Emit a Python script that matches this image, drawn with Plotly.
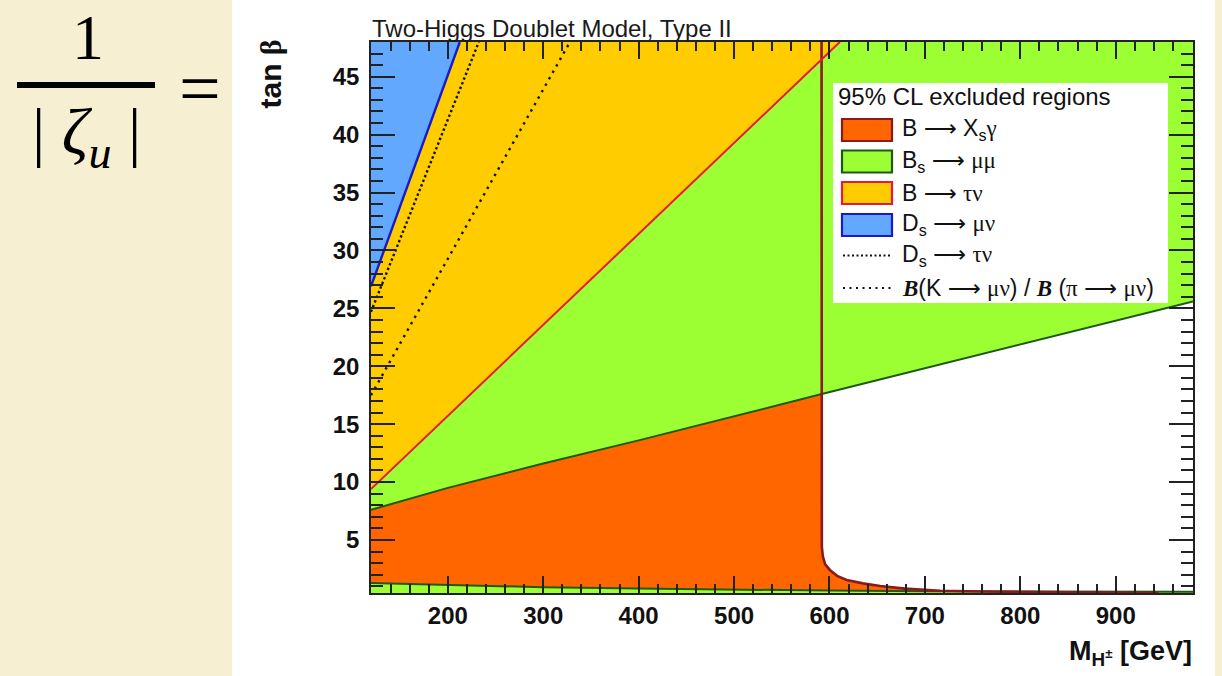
import plotly.graph_objects as go

# ---------------- data ----------------
x_range = [119.5, 981.0]
y_range = [0.42, 48.0]

# B -> Xs gamma exclusion boundary (excluded to the left / below)
bsg_m = [591.7, 591.7, 592.0, 593.0, 595.5, 600.4, 608.0, 618.0, 635.0, 653.0, 679.0, 716.0, 760.0, 850.0, 945.0]
bsg_tb = [48.0, 6.0, 4.4, 3.6, 2.9, 2.41, 1.9, 1.55, 1.25, 1.03, 0.80, 0.62, 0.55, 0.48, 0.42]

# Bs -> mu mu : upper boundary (excluded above) and lower boundary (excluded below)
bsmm_hi_m = [119.5, 200, 300, 400, 592, 981]
bsmm_hi_tb = [7.6, 9.5, 11.6, 13.6, 17.6, 25.6]
bsmm_lo_m = [119.5, 200, 300, 400, 500, 600, 700, 800, 900, 981]
bsmm_lo_tb = [1.29, 1.10, 0.92, 0.80, 0.70, 0.63, 0.58, 0.55, 0.53, 0.52]

# B -> tau nu (excluded above)
btn_m = [119.5, 610.9]
btn_tb = [9.39, 48.0]

# Ds -> mu nu (excluded above)
dsmn_m = [119.5, 212.6]
dsmn_tb = [26.9, 48.0]

# Ds -> tau nu (dotted)
dstn_m = [119.5, 232.5]
dstn_tb = [24.7, 48.0]

# B(K -> mu nu) / B(pi -> mu nu) (dotted)
kpi_m = [119.5, 328.0]
kpi_tb = [17.5, 48.0]

# ---------------- styles ----------------
C_ORANGE, C_ORANGE_L = "#ff6600", "#8b1a1a"
C_GREEN, C_GREEN_L = "#9cff33", "#1e5a14"
C_YELLOW, C_YELLOW_L = "#ffcc00", "#e8193c"
C_BLUE, C_BLUE_L = "#62a8ff", "#1a1acc"
BEIGE = "#f6efd1"

XL, XH, YL, YH = 100.0, 1000.0, 0.0, 50.0

fig = go.Figure()


def poly(x, y, color):
    fig.add_trace(go.Scatter(x=x, y=y, mode="lines", fill="toself", fillcolor=color,
                             line=dict(width=0, color=color), hoverinfo="skip", showlegend=False))


def line(x, y, color, width=2, dash="solid"):
    fig.add_trace(go.Scatter(x=x, y=y, mode="lines", line=dict(color=color, width=width, dash=dash),
                             hoverinfo="skip", showlegend=False))


# fills (drawn in ROOT order)
poly([XL, bsg_m[0]] + bsg_m + [bsg_m[-1], XL], [YH, YH] + bsg_tb + [YL, YL], C_ORANGE)
poly(bsmm_hi_m + [XH, XH, XL, XL], bsmm_hi_tb + [bsmm_hi_tb[-1], YH, YH, bsmm_hi_tb[0]], C_GREEN)
poly(bsmm_lo_m + [XH, XH, XL, XL], bsmm_lo_tb + [bsmm_lo_tb[-1], YL, YL, bsmm_lo_tb[0]], C_GREEN)
poly(btn_m + [btn_m[-1], XL, XL], btn_tb + [YH, YH, btn_tb[0]], C_YELLOW)
poly(dsmn_m + [dsmn_m[-1], XL, XL], dsmn_tb + [YH, YH, dsmn_tb[0]], C_BLUE)

# boundary lines
line(bsmm_hi_m, bsmm_hi_tb, C_GREEN_L, 2)
line(bsmm_lo_m, bsmm_lo_tb, C_GREEN_L, 2)
line(bsg_m, bsg_tb, C_ORANGE_L, 2.6)
line(btn_m, btn_tb, C_YELLOW_L, 2)
line(dsmn_m, dsmn_tb, C_BLUE_L, 2.4)
line(dstn_m, dstn_tb, "#111111", 2.4, "2.4px,2.6px")
line(kpi_m, kpi_tb, "#111111", 2.4, "2.4px,5px")

# ---------------- layout ----------------
L, R, T, B = 371, 29, 42, 83
W, H = 1222, 676
PW, PH = W - L - R, H - T - B


def px(x):
    return (x - L) / PW


def py(y):
    return (H - B - y) / PH


axis_common = dict(showline=True, linewidth=1.5, linecolor="#222", mirror="ticks",
                   ticks="inside", tickwidth=1.5, tickcolor="#222", showgrid=False, zeroline=False,
                   tickfont=dict(family="Liberation Sans", size=24, color="#111", weight="bold"))

fig.update_layout(
    width=W, height=H, margin=dict(l=L, r=R, t=T, b=B, pad=0),
    paper_bgcolor=BEIGE, plot_bgcolor="white", showlegend=False,
    xaxis=dict(range=x_range, tick0=0, dtick=100, ticklen=17,
               minor=dict(ticks="inside", dtick=20, ticklen=9, tickwidth=1.5, tickcolor="#222"),
               ticklabelstandoff=0, **axis_common),
    yaxis=dict(range=y_range, tick0=0, dtick=5, ticklen=24,
               minor=dict(ticks="inside", dtick=1, ticklen=12, tickwidth=1.5, tickcolor="#222"),
               ticklabelstandoff=5, **axis_common),
)

shapes = []
# white panel behind the chart
shapes.append(dict(type="rect", xref="paper", yref="paper", layer="below",
                   x0=px(232), x1=px(1215), y0=py(H + 2), y1=py(-2),
                   fillcolor="white", line=dict(width=0)))
# formula fraction bar
shapes.append(dict(type="line", xref="paper", yref="paper", x0=px(17), x1=px(155), y0=py(85), y1=py(85),
                   line=dict(color="black", width=6)))
# legend box
shapes.append(dict(type="rect", xref="paper", yref="paper", x0=px(833), x1=px(1168), y0=py(303), y1=py(83),
                   fillcolor="white", line=dict(width=0)))
rows = [130, 161.5, 193, 225, 255.5, 288]
swatches = [(C_ORANGE, C_ORANGE_L), (C_GREEN, C_GREEN_L), (C_YELLOW, C_YELLOW_L), (C_BLUE, C_BLUE_L)]
for yc, (fc, lc) in zip(rows[:4], swatches):
    shapes.append(dict(type="rect", xref="paper", yref="paper", x0=px(842), x1=px(892),
                       y0=py(yc + 11), y1=py(yc - 11), fillcolor=fc, line=dict(color=lc, width=2.2)))
shapes.append(dict(type="line", xref="paper", yref="paper", x0=px(843), x1=px(891), y0=py(rows[4]), y1=py(rows[4]),
                   line=dict(color="#111", width=1.8, dash="2px,2.5px")))
shapes.append(dict(type="line", xref="paper", yref="paper", x0=px(843), x1=px(891), y0=py(rows[5]), y1=py(rows[5]),
                   line=dict(color="#111", width=1.8, dash="2px,4.5px")))
fig.update_layout(shapes=shapes)

SERIF = "Liberation Serif"


def g(s):
    return f"<span style='font-family:{SERIF}'>{s}</span>"


def gb(s):
    return f"<span style='font-family:{SERIF}'><b><i>{s}</i></b></span>"


ARROW = "<span style='font-family:DejaVu Sans'>⟶</span>"

ann = []


def text(x, y, s, size, xanchor="left", yanchor="middle", family="Liberation Sans", color="#111",
         weight="normal", angle=0):
    ann.append(dict(x=px(x), y=py(y), xref="paper", yref="paper", text=s, showarrow=False,
                    xanchor=xanchor, yanchor=yanchor, textangle=angle,
                    font=dict(family=family, size=size, color=color, weight=weight)))


# formula on the left
text(88, 0, "1", 64, xanchor="center", yanchor="top", family=SERIF, color="#000")
text(86, 136, "| <i>ζ<sub>u</sub></i> |", 66, xanchor="center", family=SERIF, color="#000")
text(200, 88, "=", 74, xanchor="center", family=SERIF, color="#000")

# title
text(370, 28, "Two-Higgs Doublet Model, Type II", 24, color="#1a1a1a")

# axis titles
text(270, 38, "tan " + "<span style='font-family:Liberation Serif'>β</span>", 30,
     xanchor="center", yanchor="top", weight="bold", angle=-90)
text(1194, 653, "M<sub>H<sup>±</sup></sub> [GeV]", 27, xanchor="right", weight="bold")

# legend texts
LX = 900
FS = 23
text(836, 97, "95% CL excluded regions", 24)
text(LX, rows[0], "B " + ARROW + " X<sub>s</sub>" + g("γ"), FS)
text(LX, rows[1], "B<sub>s</sub> " + ARROW + " " + g("μμ"), FS)
text(LX, rows[2], "B " + ARROW + " " + g("τν"), FS)
text(LX, rows[3], "D<sub>s</sub> " + ARROW + " " + g("μν"), FS)
text(LX, rows[4], "D<sub>s</sub> " + ARROW + " " + g("τν"), FS)
text(LX, rows[5], gb("B") + "(K " + ARROW + " " + g("μν") + ") / " + gb("B") + " (" + g("π") + " "
     + ARROW + " " + g("μν") + ")", FS)

fig.update_layout(annotations=ann)

fig.write_html("out.html")
